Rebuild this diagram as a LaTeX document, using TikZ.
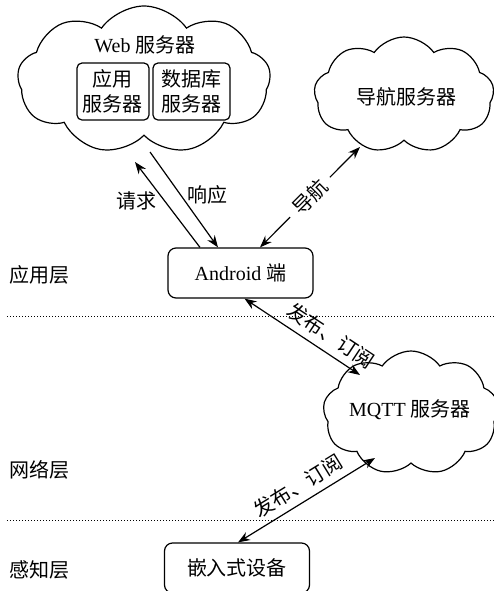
\documentclass[tikz,border=0pt]{standalone}
\usepackage{fontspec}
\setmainfont{Liberation Serif}
\newfontfamily\cjk{Noto Sans CJK SC}
\usetikzlibrary{shapes.symbols,arrows.meta}

\tikzset{
  cloudnode/.style={cloud, draw, cloud puffs=9, cloud puff arc=110, cloud ignores aspect, inner sep=0pt},
  devbox/.style={draw, rounded corners=4pt, inner sep=0pt, minimum width=72.5pt, minimum height=25pt},
  srvbox/.style={draw, rounded corners=2.5pt, inner sep=0pt, minimum height=28.5pt, align=center},
  tip/.style={-{Stealth[length=6pt,width=4.5pt]}},
  tips/.style={{Stealth[length=6pt,width=4.5pt]}-{Stealth[length=6pt,width=4.5pt]}},
  sep/.style={densely dotted, line width=0.5pt}
}

\begin{document}
\begin{tikzpicture}[x=0.5pt,y=-0.5pt,line width=0.6pt,font=\fontsize{10}{12.5}\selectfont]
  \useasboundingbox (0,0) rectangle (494,591);
  % clouds
  \node[cloudnode, minimum width=126.5pt, minimum height=74pt] (web) at (144,80) {};
  \node (webtitle) at (145,45) {Web {\cjk 服务器}};
  \node[srvbox, minimum width=36pt] (appsrv) at (113,91.5) {\cjk 应用\\\cjk 服务器};
  \node[srvbox, minimum width=38.5pt] (dbsrv) at (191.5,91.5) {\cjk 数据库\\\cjk 服务器};
  \node[cloudnode, minimum width=90pt, minimum height=58pt] (nav) at (404,95) {};
  \node (navtitle) at (407,97) {\cjk 导航服务器};
  \node[cloudnode, minimum width=88pt, minimum height=62pt] (mqtt) at (411,413) {};
  \node (mqtttitle) at (410,410) {MQTT {\cjk 服务器}};
  % devices
  \node[devbox] (android) at (240.5,273) {Android {\cjk 端}};
  \node[devbox] (embed) at (237,568) {\cjk 嵌入式设备};
  % layers
  \node (applayer) at (40,275) {\cjk 应用层};
  \node (netlayer) at (40,470) {\cjk 网络层};
  \node (senselayer) at (40,570) {\cjk 感知层};
  \draw[sep] (7,316) -- (494,316);
  \draw[sep] (7,520) -- (494,520);
  % links
  \draw[tip] ([xshift=-20.25pt]android.north) -- ([shift={(-9,82)}]web.center)
    node[pos=0.55, left] {\cjk 请求};
  \draw[tip] ([shift={(6,72)}]web.center) -- ([xshift=-11.25pt]android.north)
    node[pos=0.45, right] {\cjk 响应};
  \draw[tips] ([xshift=9.75pt]android.north) -- ([shift={(-44,52)}]nav.center)
    node[midway, sloped, fill=white, inner sep=4pt] {\cjk 导航};
  \draw[tips] ([xshift=2pt]android.south) -- ([shift={(-51,-38)}]mqtt.center)
    node[pos=0.67, sloped, above] {\cjk 发布、订阅};
  \draw[tips] ([xshift=0.5pt]embed.north) -- ([shift={(-36,45)}]mqtt.center)
    node[pos=0.5, sloped, above] {\cjk 发布、订阅};
\end{tikzpicture}
\end{document}
